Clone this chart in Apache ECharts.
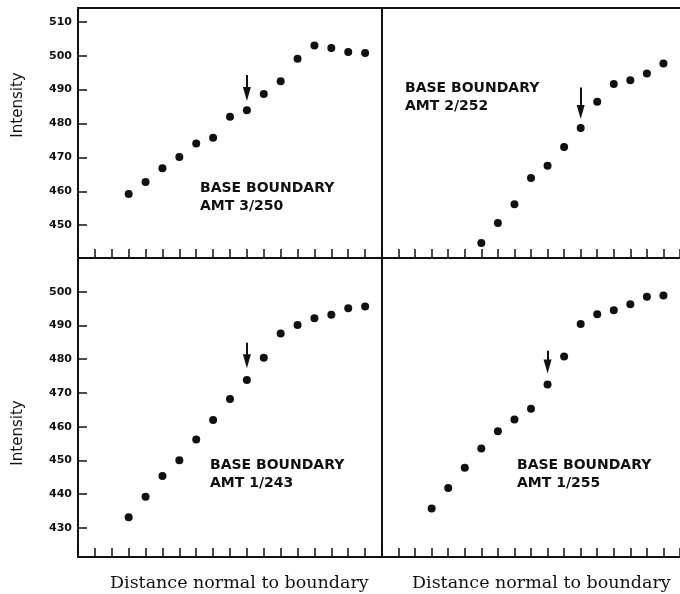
<!DOCTYPE html>
<html>
<head>
<meta charset="utf-8">
<script src="https://cdn.jsdelivr.net/npm/echarts@6/dist/echarts.min.js"></script>
<style>
html,body{margin:0;padding:0;background:#fff;}
#c{width:680px;height:594px;}
</style>
</head>
<body>
<div id="c"></div>
<script>
// ---- data ----
const positionsTL = [3,4,5,6,7,8,9,10,11,12,13,14,15,16,17];
const intensityTL = [459.2,462.7,466.8,470.1,474.1,475.8,482.0,483.9,488.7,492.5,499.1,503.0,502.3,501.1,500.8];
const positionsTR = [6,7,8,9,10,11,12,13,14,15,16,17];
const intensityTR = [444.7,450.6,456.2,463.9,467.5,473.1,478.7,486.4,491.7,492.8,494.8,497.7];
const positionsBL = [3,4,5,6,7,8,9,10,11,12,13,14,15,16,17];
const intensityBL = [433.1,439.2,445.4,450.0,456.2,462.0,468.2,473.8,480.4,487.6,490.1,492.1,493.2,495.1,495.6];
const positionsBR = [3,4,5,6,7,8,9,10,11,12,13,14,15,16,17];
const intensityBR = [435.7,441.8,447.8,453.5,458.6,462.1,465.3,472.5,480.8,490.4,493.3,494.5,496.3,498.5,498.9];

// boundary arrows: [x, from, to (arrow-head centre)]
const arrowTL = [10, 494.3, 488.7];
const arrowTR = [12, 490.6, 483.4];
const arrowBL = [10, 484.9, 479.4];
const arrowBR = [10, 482.5, 477.8];

const labelsTL = ['BASE BOUNDARY', 'AMT 3/250'];
const labelsTR = ['BASE BOUNDARY', 'AMT 2/252'];
const labelsBL = ['BASE BOUNDARY', 'AMT 1/243'];
const labelsBR = ['BASE BOUNDARY', 'AMT 1/255'];

const topTicks = [450,460,470,480,490,500,510];
const bottomTicks = [430,440,450,460,470,480,490,500];
const xAxisTitle = 'Distance normal to boundary';
const yAxisTitle = 'Intensity';

// ---- chart ----
const ink = '#111';
const arrowHead = 'path://M0,7L0,7M14,7L14,7M7,0L11,14L3,14Z';
const chart = echarts.init(document.getElementById('c'), null, {renderer:'canvas'});

const grids = [
  {left:78, top:8, width:304, height:250},
  {left:382, top:8, width:304, height:250},
  {left:78, top:258, width:304, height:299},
  {left:382, top:258, width:304, height:299}
];

function xAx(i, withTicks){
  return {type:'value', gridIndex:i, min:0, max:18, interval:1, position:'bottom',
    axisLine:{show:true, onZero:false, lineStyle:{color:ink, width:2}},
    axisTick:{show:withTicks, inside:true, length:9, lineStyle:{color:ink, width:1.5}},
    axisLabel:{show:false}, splitLine:{show:false}};
}
function topBorder(i){
  return {type:'value', gridIndex:i, min:0, max:18, position:'top',
    axisLine:{show:true, onZero:false, lineStyle:{color:ink, width:2}},
    axisTick:{show:false}, axisLabel:{show:false}, splitLine:{show:false}};
}
function yAx(i, min, max, ticks, withLabels){
  return {type:'value', gridIndex:i, min:min, max:max,
    axisLine:{show:true, onZero:false, lineStyle:{color:ink, width:2}},
    axisTick:{show:withLabels, inside:true, length:9, customValues:ticks, lineStyle:{color:ink, width:1.5}},
    axisLabel:{show:withLabels, customValues:ticks, margin:6, color:ink,
      fontFamily:'DejaVu Sans', fontWeight:'bold', fontSize:11},
    splitLine:{show:false}};
}

function series(i, xs, ys, arrow){
  return {type:'scatter', xAxisIndex:i, yAxisIndex:i,
    symbol:'circle', symbolSize:8, itemStyle:{color:ink, opacity:1},
    data: xs.map((x,k)=>[x, ys[k]]),
    markLine:{silent:true, symbol:['none', arrowHead], symbolSize:14,
      lineStyle:{color:ink, width:2, type:'solid', opacity:1},
      itemStyle:{color:ink},
      label:{show:false},
      data:[[{coord:[arrow[0], arrow[1]]},{coord:[arrow[0], arrow[2]]}]]}
  };
}

function note(x, yTop, lines){
  return {type:'text', x:x, y:yTop, silent:true,
    style:{text:lines.join('\n'), font:'bold 14px "DejaVu Sans"', lineHeight:18,
      fill:ink, align:'left', verticalAlign:'top'}};
}

const option = {
  backgroundColor:'#fff',
  animation:false,
  grid: grids,
  xAxis:[xAx(0,true), xAx(1,true), xAx(2,true), xAx(3,true),
         topBorder(0), topBorder(1)],
  yAxis:[yAx(0,440.3,514.1,topTicks,true), yAx(1,440.3,514.1,topTicks,false),
         yAx(2,421.35,510,bottomTicks,true), yAx(3,421.35,510,bottomTicks,false)],
  series:[
    series(0, positionsTL, intensityTL, arrowTL),
    series(1, positionsTR, intensityTR, arrowTR),
    series(2, positionsBL, intensityBL, arrowBL),
    series(3, positionsBR, intensityBR, arrowBR)
  ],
  graphic:[
    note(200, 179, labelsTL),
    note(405, 79, labelsTR),
    note(210, 456, labelsBL),
    note(517, 456, labelsBR),
    {type:'text', x:18, y:105, rotation:Math.PI/2, silent:true,
      style:{text:yAxisTitle, font:'15px "DejaVu Sans"', fill:ink, align:'center', verticalAlign:'middle'}},
    {type:'text', x:18, y:433, rotation:Math.PI/2, silent:true,
      style:{text:yAxisTitle, font:'15px "DejaVu Sans"', fill:ink, align:'center', verticalAlign:'middle'}},
    {type:'text', x:110, y:583, silent:true,
      style:{text:xAxisTitle, font:'17.5px "DejaVu Serif"', fill:ink, align:'left', verticalAlign:'middle'}},
    {type:'text', x:412, y:583, silent:true,
      style:{text:xAxisTitle, font:'17.5px "DejaVu Serif"', fill:ink, align:'left', verticalAlign:'middle'}}
  ]
};
chart.setOption(option);
</script>
</body>
</html>
